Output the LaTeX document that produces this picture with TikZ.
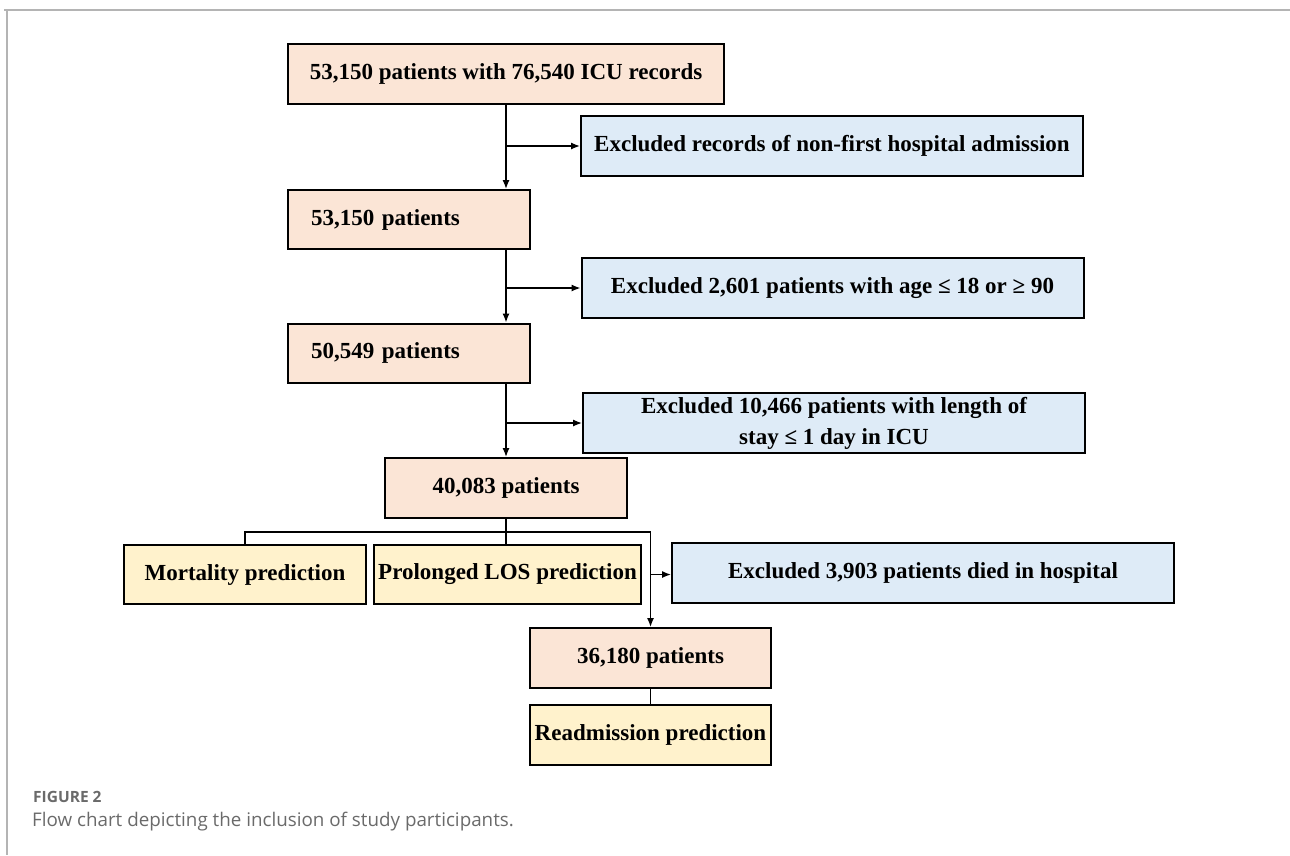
\documentclass[tikz,border=0pt]{standalone}
\usepackage{fontspec}
\setmainfont{Liberation Serif}
\setsansfont{Open Sans}
\usetikzlibrary{calc}
\usetikzlibrary{arrows.meta}
\definecolor{cohortfill}{HTML}{FBE5D6}
\definecolor{exclfill}{HTML}{DEEBF7}
\definecolor{taskfill}{HTML}{FFF2CC}
\definecolor{framegray}{HTML}{B4B4B4}
\definecolor{capgray}{HTML}{6A6A6A}

\begin{document}
\begin{tikzpicture}[x=1pt,y=-1pt,
		box/.style={rectangle,draw=black,line width=2pt,inner sep=0pt,font=\fontsize{23}{31}\selectfont\bfseries,align=center},
		cohort/.style={box,fill=cohortfill,minimum height=60pt},
		leftcohort/.style={cohort,text width=196pt,inner xsep=23pt,align=left,minimum height=59pt},
		excl/.style={box,fill=exclfill,minimum width=502pt,minimum height=60pt},
		task/.style={box,fill=taskfill,minimum height=59pt},
		conn/.style={line width=1.3pt},
		arr/.style={conn,-{Latex[length=9pt,width=7pt]}},
		caption/.style={anchor=west,inner sep=0pt,text=capgray}
		]
		\useasboundingbox (0,0) rectangle (1290,855);
		\draw[framegray,line width=1.5pt] (4,10) -- (1290,10);
		\draw[framegray,line width=1.5pt] (7,10) -- (7,855);
		
		\node (a) [cohort,minimum width=436pt] at (506,74) {53,150 patients with 76,540 ICU records};
		\node (e1) [excl] at (832,146) {Excluded records of non-first hospital admission};
		\node (b) [leftcohort] at (409,219.5) {53,150 patients};
		\node (e2) [excl] at (832.5,288) {Excluded 2,601 patients with age ≤ 18 or ≥ 90};
		\node (c) [leftcohort] at (409,353) {50,549 patients};
		\node (e3) [excl] at (834,423) {Excluded 10,466 patients with length of\\ stay ≤ 1 day in ICU};
		\node (d) [cohort,minimum width=242pt] at (506,488) {40,083 patients};
		\node (mort) [task,minimum width=242pt] at (245,574.5) {Mortality prediction};
		\node (los) [task,minimum width=267pt] at (507.5,574.5) {Prolonged LOS prediction};
		\node (e4) [excl] at (923,572.5) {Excluded 3,903 patients died in hospital};
		\node (f) [cohort,minimum width=241pt] at (650.5,658) {36,180 patients};
		\node (g) [task,minimum width=241pt,minimum height=60pt] at (650.5,735) {Readmission prediction};
		
		\draw[arr] (a) -- (a |- b.north);
		\draw[arr] (a |- e1.west) -- (e1.west);
		\draw[arr] (a |- b.south) -- (a |- c.north);
		\draw[arr] (a |- e2.west) -- (e2.west);
		\draw[arr] (a |- c.south) -- (d);
		\draw[arr] (a |- e3.west) -- (e3.west);
		\coordinate (bar) at ($(d.south)+(0,13)$);
		\draw[conn] (d.south) -- (d.south |- los.north);
		\draw[arr] (mort.north) |- (bar) -| (f.north);
		\draw[arr] (los.east -| f.north) -- (los.east -| e4.west);
		\draw[conn] (f) -- (g);
		
		\node (fig) [caption,font=\sffamily\bfseries\fontsize{15.5}{18}\selectfont] at (33,797) {FIGURE 2};
		\node (cap) [caption,font=\sffamily\fontsize{18.8}{22}\selectfont] at (32,822) {Flow chart depicting the inclusion of study participants.};
\end{tikzpicture}
\end{document}
